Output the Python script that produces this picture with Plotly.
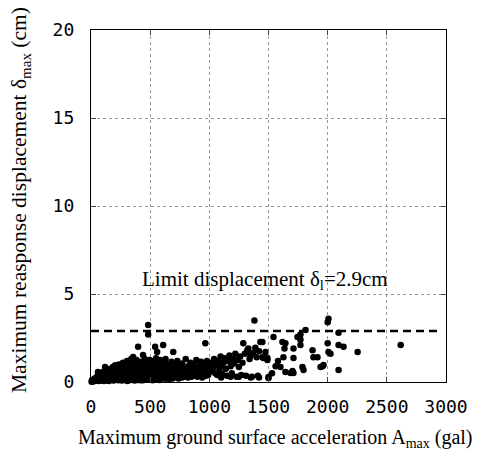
import plotly.graph_objects as go

# --- data (gal, cm) ---
acc = [
    5, 10, 15, 20, 25, 30, 35, 40, 45, 50, 8, 30,
    60, 60, 70, 75, 80, 85, 90, 95, 100, 105, 110, 115, 119, 59, 120, 125, 130, 135, 140, 145, 150,
    155, 160, 165, 170, 175, 180, 185, 190, 195, 200, 205, 210, 215, 220, 225, 230, 235, 240, 245,
    250, 255, 260, 265, 270, 275, 280, 285, 290, 295, 300, 250, 200, 280,
    305, 310, 315, 320, 325, 330, 335, 340, 345, 350, 356, 360, 365, 370, 375, 380, 385, 390, 398,
    400, 405, 410, 415, 420, 425, 430, 440, 440, 445, 450, 455, 460, 465, 470, 475, 483, 483, 483,
    485, 490, 495, 500, 500, 420, 350,
    505, 510, 515, 520, 525, 530, 535, 542, 545, 550, 559, 560, 565, 570, 575, 580, 585, 590, 595,
    600, 610, 610, 615, 620, 630, 635, 640, 650, 655, 660, 670, 680, 685, 695, 700,
    710, 720, 730, 740, 750, 760, 770, 780, 790, 800, 810, 820, 830, 840, 850, 860, 870, 880, 890,
    900, 910, 920, 930, 940, 950, 966, 960, 970, 980, 990, 1000,
    1010, 1020, 1030, 1040, 1050, 1060, 1067, 1075, 1085, 1095, 1100, 1110, 1120, 1130, 1140, 1150,
    1160, 1170, 1180, 1190, 1200, 1210, 1220, 1230, 1240, 1250, 1260, 1270, 1280, 1287, 1300, 1310,
    1321, 1330, 1340, 1350, 1360, 1370, 1381, 1389, 1400, 1410, 1420, 1431, 1448, 1448, 1457, 1474,
    1491, 1491, 1500, 1500, 1420, 1350, 1250, 1180, 1100,
    2007, 2000, 2092, 2617, 2253, 2092, 2134, 2000, 2007, 2024, 2092, 1813, 1770, 1745, 1770, 1542,
    1618, 1643, 1635, 1711, 1770, 1872, 1914, 1957, 1940, 1796, 1787, 1711, 1626, 1601, 1643, 1686,
    1711, 1703, 1965, 1880, 1530, 1560, 1580,
    # dense low band
    110, 130, 150, 170, 190, 210, 230, 260, 290, 310, 340, 370, 400, 440, 470, 520, 550, 580, 620,
    660, 700, 740, 780, 820, 860, 900, 940,
    # dense middle band
    140, 160, 180, 200, 220, 240, 260, 280, 300, 320, 330, 350, 360, 380, 400, 410, 430, 450, 460,
    480, 500, 510, 530, 540, 560, 580, 600, 620, 640, 660, 680, 700, 720, 750, 760, 800, 820, 850,
    880, 920, 950, 980, 230, 270, 320, 390, 450, 480, 530, 600, 650, 720,
    # fill of the solid mass
    50, 70, 90, 100, 130, 150, 170, 190, 210, 220, 240, 250, 260, 280, 290, 300, 310, 320, 330,
    340, 350, 360, 370, 380, 390, 400, 410, 420, 430, 440, 450, 460, 470, 480, 490, 500, 510, 520,
    530, 540, 550, 560, 570, 580, 590, 610, 620, 630, 640, 650, 670, 680, 690, 710, 730, 740, 760,
    770, 790, 810, 840, 870, 890, 910, 930, 960, 990,
]
disp = [
    0.02, 0.05, 0.03, 0.08, 0.05, 0.10, 0.06, 0.12, 0.08, 0.15, 0.10, 0.20,
    0.10, 0.30, 0.20, 0.45, 0.15, 0.35, 0.25, 0.55, 0.20, 0.40, 0.30, 0.60, 0.85, 0.57, 0.15, 0.50, 0.35, 0.25, 0.65, 0.45, 0.30,
    0.55, 0.20, 0.75, 0.40, 0.60, 0.30, 0.85, 0.50, 0.70, 0.25, 0.95, 0.45, 0.65, 0.35, 0.80, 0.55, 1.00, 0.30, 0.70,
    0.50, 0.90, 0.40, 0.60, 1.10, 0.35, 0.75, 0.55, 0.95, 0.45, 0.65, 0.15, 0.12, 0.20,
    1.20, 0.30, 0.80, 0.50, 1.00, 0.20, 0.70, 1.30, 0.45, 0.90, 1.42, 0.60, 0.25, 1.10, 0.80, 0.40, 1.25, 0.55, 2.00,
    0.95, 0.30, 0.70, 1.15, 0.50, 0.85, 0.20, 1.53, 0.65, 1.00, 0.40, 1.30, 0.75, 0.25, 1.05, 0.55, 1.14, 2.70, 3.24,
    0.85, 0.35, 1.25, 0.60, 0.15, 0.10, 0.12,
    0.95, 0.40, 1.20, 0.70, 0.25, 1.00, 0.50, 2.00, 0.80, 1.35, 1.70, 0.60, 0.30, 1.10, 0.75, 0.45, 1.25, 0.90, 0.35,
    0.65, 2.10, 1.00, 0.50, 0.80, 1.30, 0.40, 0.70, 1.00, 0.30, 0.55, 0.85, 1.15, 0.45, 1.70, 0.70,
    0.95, 0.40, 1.20, 0.60, 0.85, 0.30, 1.05, 0.55, 0.75, 1.30, 0.45, 0.90, 0.65, 1.10, 0.30, 0.80, 1.00, 0.50, 1.25,
    0.70, 0.90, 0.40, 1.15, 0.60, 1.00, 2.20, 0.80, 0.35, 1.20, 0.65, 0.95,
    0.60, 1.10, 0.80, 1.30, 0.50, 0.95, 0.40, 1.20, 0.70, 1.45, 0.90, 0.45, 1.10, 1.35, 0.75, 0.35,
    1.20, 1.50, 0.90, 0.50, 1.30, 1.05, 1.60, 0.30, 1.25, 0.85, 1.45, 0.40, 1.10, 2.20, 1.60, 0.35,
    1.80, 1.90, 1.30, 1.50, 0.30, 1.65, 3.50, 1.95, 1.40, 0.35, 1.75, 2.27, 1.40, 2.27, 1.36, 1.70,
    1.25, 1.36, 0.23, 0.28, 0.25, 0.25, 0.30, 0.30, 0.25,
    3.60, 3.40, 2.80, 2.10, 1.70, 2.10, 2.00, 2.20, 1.70, 1.60, 0.68, 2.95, 2.70, 2.55, 2.40, 2.55,
    2.27, 2.20, 1.90, 1.90, 2.10, 1.80, 1.40, 0.90, 0.85, 0.68, 0.85, 1.36, 1.40, 0.85, 0.57, 0.51,
    0.51, 0.62, 0.97, 1.40, 0.50, 0.90, 1.20,
    0.05, 0.10, 0.05, 0.12, 0.08, 0.18, 0.10, 0.08, 0.10, 0.06, 0.15, 0.08, 0.12, 0.10, 0.15, 0.10, 0.18, 0.12, 0.20,
    0.15, 0.25, 0.20, 0.30, 0.25, 0.35, 0.30, 0.25,
    0.15, 0.35, 0.50, 0.40, 0.55, 0.45, 0.70, 0.45, 0.35, 0.30, 0.60, 0.40, 0.85, 0.60, 0.50, 0.90, 0.45, 0.70, 1.10,
    0.50, 0.90, 1.10, 0.35, 0.60, 0.95, 0.70, 0.45, 1.05, 0.50, 0.80, 0.40, 1.00, 0.70, 0.50, 0.95, 0.60, 0.50, 0.70,
    0.85, 0.75, 0.50, 0.80, 0.25, 0.25, 0.75, 0.30, 0.25, 0.30, 0.75, 0.25, 0.60, 0.55,
    0.30, 0.05, 0.10, 0.45, 0.55, 0.70, 0.25, 0.15, 0.75, 0.20, 0.15, 0.85, 0.25, 0.90, 0.30, 0.85, 0.55, 0.15, 0.45,
    0.95, 0.25, 0.40, 0.65, 1.05, 0.15, 0.75, 0.40, 0.65, 1.00, 0.30, 0.55, 0.90, 0.35, 0.75, 1.00, 0.40, 0.20, 0.50,
    0.90, 0.25, 0.55, 0.20, 0.85, 0.30, 0.60, 0.30, 0.60, 0.20, 0.90, 0.45, 0.30, 0.65, 0.20, 0.45, 0.30, 0.80, 0.60,
    0.25, 0.45, 0.70, 0.40, 0.55, 0.40, 0.60, 0.35, 0.60, 0.40,
]

limit_value = 2.9
limit_x = [0, 2940]
limit_y = [limit_value, limit_value]

x_ticks = [0, 500, 1000, 1500, 2000, 2500, 3000]
y_ticks = [0, 5, 10, 15, 20]

serif = "Liberation Serif, Times New Roman, serif"
mono = "DejaVu Sans Mono, monospace"

# page body has an 8px margin: size the figure to the visible window
OFF = 8
W, H = 482 - OFF, 457 - OFF
L, T = 91 - OFF, 30 - OFF
R = W - (446 - OFF)
B = H - (382 - OFF)

fig = go.Figure()
fig.add_trace(go.Scatter(
    x=acc, y=disp, mode="markers",
    marker=dict(color="black", size=6.5),
    cliponaxis=False, showlegend=False,
))
fig.add_trace(go.Scatter(
    x=limit_x, y=limit_y, mode="lines",
    line=dict(color="black", width=2.5, dash="8px,5px"),
    showlegend=False,
))

fig.add_annotation(
    x=1470, y=5.8, xref="x", yref="y",
    text="Limit displacement δ<sub>l</sub>=2.9cm",
    showarrow=False, font=dict(family=serif, size=21, color="black"),
)
# titles placed by (screen pixel) centre
title_specs = [
    dict(px=275, py=438, angle=0, size=20,
         text="Maximum ground surface acceleration A<sub>max</sub> (gal)"),
    dict(px=20, py=200, angle=-90, size=21.5,
         text="Maximum reasponse displacement δ<sub>max</sub> (cm)"),
]
pw, ph = W - L - R, H - T - B
for s in title_specs:
    fig.add_annotation(
        x=(s["px"] - OFF - L) / pw, y=1 - (s["py"] - OFF - T) / ph,
        xref="paper", yref="paper", xanchor="center", yanchor="middle",
        textangle=s["angle"], text=s["text"], showarrow=False,
        font=dict(family=serif, size=s["size"], color="black"),
    )

axis_common = dict(
    showline=True, linecolor="black", linewidth=1.2, mirror="ticks",
    ticks="inside", ticklen=5, tickcolor="#444",
    showgrid=True, gridcolor="#999", griddash="dot", gridwidth=1,
    zeroline=False, automargin=False,
    tickfont=dict(family=mono, size=18, color="black"),
)

fig.update_layout(
    width=W, height=H,
    margin=dict(l=L, r=R, t=T, b=B),
    paper_bgcolor="white", plot_bgcolor="white",
    xaxis=dict(range=[0, 3000], tickvals=x_ticks, ticklabelstandoff=8, **axis_common),
    yaxis=dict(range=[0, 20], tickvals=y_ticks, ticklabelstandoff=12, **axis_common),
)

fig.write_html("out.html")
